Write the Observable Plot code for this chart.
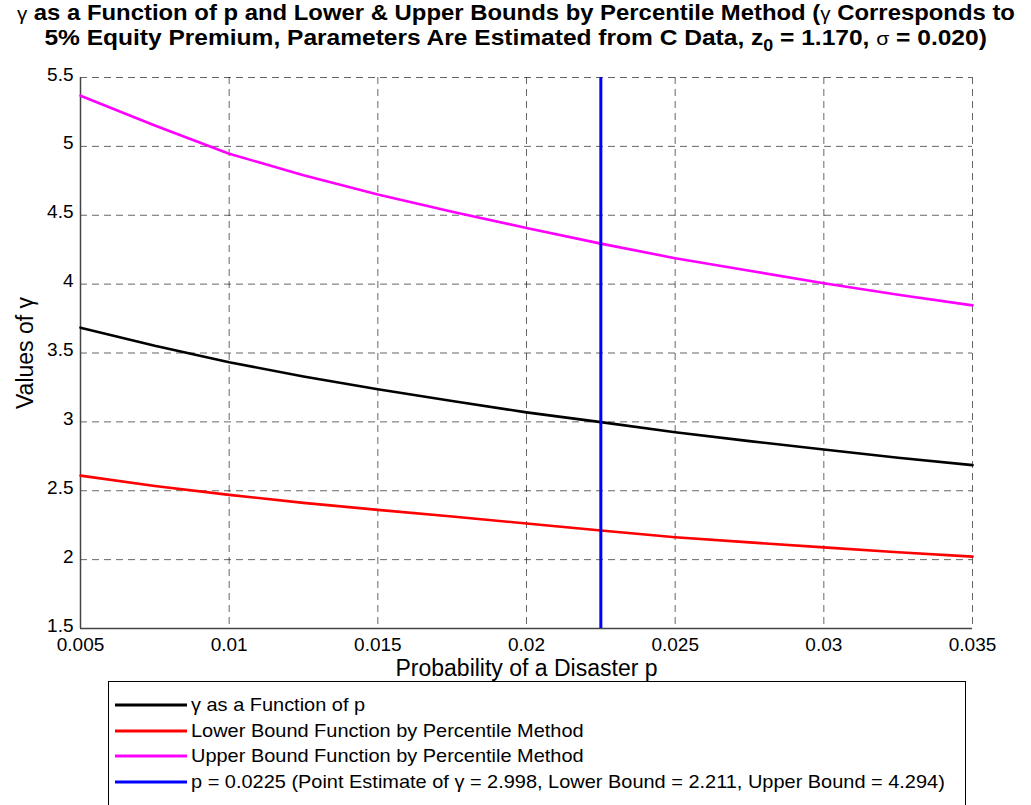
<!DOCTYPE html>
<html>
<head>
<meta charset="utf-8">
<script src="https://cdn.jsdelivr.net/npm/d3@7"></script>
<script src="https://cdn.jsdelivr.net/npm/@observablehq/plot@0.6"></script>
<style>
  html, body { margin: 0; padding: 0; background: #fff; }
  body { width: 1031px; height: 805px; position: relative; overflow: hidden; font-family: "Liberation Sans", Arial, sans-serif; }
  #title { position: absolute; left: 0; top: 1px; width: 1031px; text-align: center; font-weight: bold; font-size: 22px; line-height: 24px; color: #000; }
  #title .ln { display: inline-block; transform-origin: center; white-space: nowrap; }
  #title .l1 { transform: scaleX(1.085); }
  #title .l2 { transform: scaleX(1.115); }
  #title .g { font-weight: normal; font-size: 19px; }
  #title sub { font-size: 16px; vertical-align: -6px; line-height: 0; }
  #chart { position: absolute; left: 0; top: 60px; }
  #legend { position: absolute; left: 108px; top: 681px; width: 858px; height: 130px; border: 1px solid #000; background: #fff; box-sizing: border-box; }
  .row { position: absolute; left: 6px; height: 22px; display: flex; align-items: center; font-size: 19px; color: #000; white-space: nowrap; }
  .row svg { margin-right: 4px; flex: none; }
  .row span { display: inline-block; transform: scaleX(1.05); transform-origin: left center; }
</style>
</head>
<body>
<div id="title"><span class="ln l1"><span class="g">γ</span> as a Function of p and Lower &amp; Upper Bounds by Percentile Method (<span class="g">γ</span> Corresponds to</span><br><span class="ln l2">5% Equity Premium, Parameters Are Estimated from C Data, z<sub>0</sub> = 1.170, <span class="g">σ</span> = 0.020)</span></div>
<div id="chart"></div>
<div id="legend"></div>
<script>
// ---- data ----
const pValues = [0.005, 0.0075, 0.01, 0.0125, 0.015, 0.0175, 0.02, 0.0225, 0.025, 0.0275, 0.03, 0.0325, 0.035];
const gammaValues = [3.684, 3.552, 3.433, 3.330, 3.237, 3.151, 3.069, 2.998, 2.925, 2.860, 2.800, 2.740, 2.686];
const lowerValues = [2.610, 2.535, 2.470, 2.412, 2.361, 2.313, 2.262, 2.211, 2.163, 2.125, 2.089, 2.053, 2.022];
const upperValues = [5.368, 5.152, 4.947, 4.790, 4.650, 4.525, 4.408, 4.294, 4.188, 4.097, 4.007, 3.923, 3.846];
const pointEstimate = 0.0225;
const xTicks = [0.005, 0.01, 0.015, 0.02, 0.025, 0.03, 0.035];
const yTicks = [1.5, 2, 2.5, 3, 3.5, 4, 4.5, 5, 5.5];
const seriesNames = [
  "γ as a Function of p",
  "Lower Bound Function by Percentile Method",
  "Upper Bound Function by Percentile Method",
  "p = 0.0225 (Point Estimate of γ = 2.998, Lower Bound = 2.211, Upper Bound = 4.294)"
];
const seriesColors = ["#000000", "#ff0000", "#ff00ff", "#0000ff"];

const rows = [];
[gammaValues, lowerValues, upperValues].forEach((vals, s) => {
  pValues.forEach((p, i) => rows.push({p, v: vals[i], s: seriesNames[s]}));
});
const vline = [{p: pointEstimate, y1: 1.5, y2: 5.5}];

const fontFamily = '"Liberation Sans", Arial, sans-serif';
const chart = Plot.plot({
  width: 1031,
  height: 628,
  marginLeft: 80,
  marginRight: 59,
  marginTop: 17,
  marginBottom: 60,
  style: {fontFamily, fontSize: "19px", color: "#000", background: "transparent"},
  x: {domain: [0.005, 0.035]},
  y: {domain: [1.5, 5.5]},
  color: {domain: seriesNames.slice(0, 3), range: seriesColors.slice(0, 3)},
  marks: [
    Plot.gridX(xTicks, {stroke: "#000", strokeOpacity: 0.6, strokeDasharray: "7,5", strokeWidth: 1}),
    Plot.gridY(yTicks, {stroke: "#000", strokeOpacity: 0.6, strokeDasharray: "7,5", strokeWidth: 1}),
    Plot.axisX(xTicks, {tickSize: 0, tickPadding: 9, fontSize: 19, tickFormat: d => String(d), label: null}),
    Plot.axisY(yTicks, {tickSize: 0, tickPadding: 7, fontSize: 19, tickFormat: d => String(d), label: null, dy: -3}),
    Plot.ruleX([0.005], {stroke: "#444", strokeWidth: 1.5}),
    Plot.ruleY([1.5], {stroke: "#444", strokeWidth: 1.5}),
    Plot.line(rows, {x: "p", y: "v", z: "s", stroke: "s", strokeWidth: 2.6}),
    Plot.ruleX(vline, {x: "p", y1: "y1", y2: "y2", stroke: seriesColors[3], strokeWidth: 3}),
    Plot.text(["Probability of a Disaster p"], {frameAnchor: "bottom", lineAnchor: "middle", dy: 40, fontSize: 23, fill: "#000"}),
    Plot.text(["Values of γ"], {frameAnchor: "left", textAnchor: "middle", lineAnchor: "middle", dx: -55, rotate: -90, fontSize: 23, fill: "#000"})
  ]
});
document.getElementById("chart").appendChild(chart);

const legend = document.getElementById("legend");
seriesNames.forEach((name, i) => {
  const row = document.createElement("div");
  row.className = "row";
  row.style.top = (12 + i * 25.5) + "px";
  row.innerHTML = `<svg width="72" height="6"><line x1="0" x2="72" y1="3" y2="3" stroke="${seriesColors[i]}" stroke-width="3"/></svg><span></span>`;
  row.querySelector("span").textContent = name;
  legend.appendChild(row);
});
</script>
</body>
</html>
